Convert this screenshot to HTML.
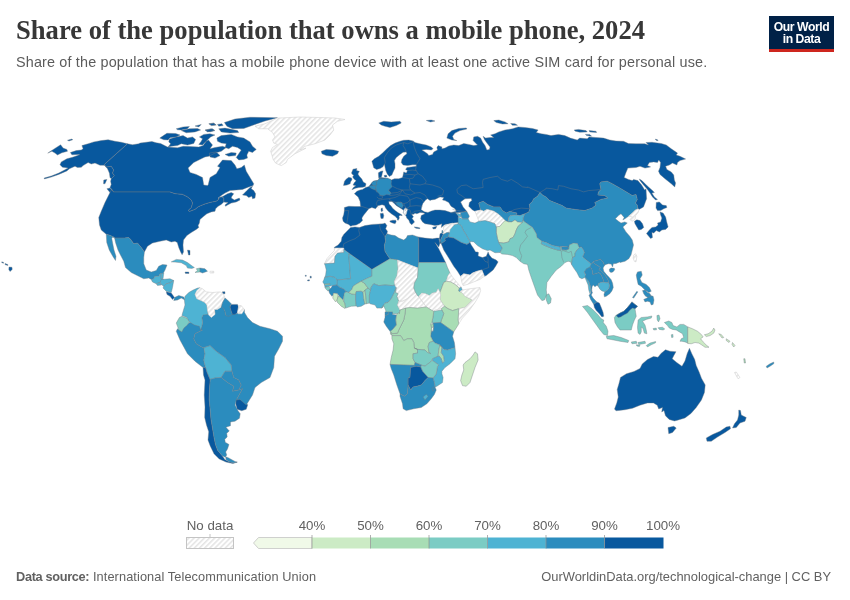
<!DOCTYPE html>
<html lang="en">
<head>
<meta charset="utf-8">
<title>Share of the population that owns a mobile phone, 2024</title>
<style>
html,body{margin:0;padding:0;background:#fff;}
body{width:850px;height:600px;position:relative;overflow:hidden;font-family:"Liberation Sans",sans-serif;}
#title{position:absolute;left:16px;top:12.8px;margin:0;font-family:"Liberation Serif",serif;font-weight:bold;font-size:26.6px;line-height:34px;color:#373737;white-space:nowrap;letter-spacing:0px;}
#subtitle{position:absolute;left:16px;top:51.6px;margin:0;font-size:14.4px;letter-spacing:0.16px;line-height:20px;color:#5b5b5b;white-space:nowrap;}
#logo{position:absolute;left:769px;top:16px;width:65px;height:33px;background:#002147;border-bottom:3px solid #ce261e;color:#fff;font-weight:bold;font-size:12.2px;line-height:12px;text-align:center;letter-spacing:-0.45px;}
#logo span{display:block;}
#logo span:first-child{margin-top:4.5px;}
#src{position:absolute;left:16px;top:569px;font-size:12.75px;line-height:16px;color:#616161;white-space:nowrap;}
#src b{font-weight:bold;letter-spacing:-0.33px;}#src span{letter-spacing:0.1px;}
#url{position:absolute;right:19px;top:569px;font-size:12.9px;line-height:16px;color:#616161;white-space:nowrap;}
svg{position:absolute;left:0;top:0;}
.lg text{font-family:"Liberation Sans",sans-serif;font-size:13.3px;fill:#616161;}
</style>
</head>
<body>
<h1 id="title">Share of the population that owns a mobile phone, 2024</h1>
<p id="subtitle">Share of the population that has a mobile phone device with at least one active SIM card for personal use.</p>
<div id="logo"><span>Our World</span><span>in Data</span></div>
<svg class="lg" width="850" height="600" viewBox="0 0 850 600">
<defs>
<pattern id="hatch" patternUnits="userSpaceOnUse" width="3.64" height="3.64" patternTransform="rotate(45)">
<rect width="3.64" height="3.64" fill="#fff"/><line x1="0.8" y1="0" x2="0.8" y2="3.64" stroke="#dedede" stroke-width="1.25"/>
</pattern>
</defs>
<g id="map">
<g stroke="#747b84" stroke-opacity="0.9" stroke-width="0.45" stroke-linejoin="round">
<path fill="#08589e" d="M47.75,153.12 52.5,150 60.62,144.75 63.12,148.12 66.88,149.38 67.5,151.25 61.88,152.75 57.5,155 55,153.12 51.88,151.25ZM67.5,140.25 71.88,139 72.75,139.75 69,141Z"><title>Russia</title></path>
<path fill="#08589e" d="M81.88,145.62 88.12,143.75 93.75,141.88 101.25,140.62 108.12,139.75 115,141.25 121.25,142.25 127.5,143.75 104.38,164.38 106.25,166.88 111.25,166.25 113.75,170 112.5,173.12 114.38,175.62 111.25,178.75 110,177.5 109.38,173.12 107.5,168.75 104.38,165.25 100,165.25 95,163.12 91.25,164 88.12,162.5 83.12,165.62 81.25,167.25 77.5,167.5 75,166.25 69.38,168.75 66.88,170.88 58.75,174.38 51.25,177.12 44.38,178.88 44.12,178.12 51.25,176 58.75,173.12 65,169.75 68.12,168.12 62.5,167.25 60,164.75 61.25,161.88 66.88,158.75 72.5,157.25 77.5,155.62 79.75,154.62 71.88,154.75 70.38,152.5 76.25,150.62 81.25,150 83.12,148.75Z"><title>United States</title></path>
<path fill="#08589e" d="M127.5,143.75 132.5,144.75 138.75,143.75 140,143.12 146.25,142.25 151.88,141.5 156.25,142.75 160.62,143.5 167.5,147 177.5,147.75 183.12,146.25 190,146.5 198.75,147 203.12,145.62 206.25,141.25 208.5,140 210.62,142.75 212.5,145 210,148.75 215,147.5 222.5,146.25 226.25,147.5 221.25,151.25 215,153.12 208.75,156.25 205,156.88 201.25,158.75 193.75,162.5 188.12,168.12 190,172.5 196.25,174.38 202.5,177.5 203.75,185 207.5,185.5 208.12,185 210,177.5 216.25,173.75 220,167.5 217.5,166.25 222.5,160 231.25,160.62 235,165 236.88,168.75 241.25,167.5 244.38,165 246.25,171.25 250,177.5 253.75,183.75 253.12,185.62 248.75,186.88 242.5,189.38 236.25,190 230,190.62 225,193.12 221.25,195.62 218.12,198.12 218.75,198.75 223.12,196.25 227.5,193.75 231.25,192.5 233.75,193.75 231.88,196.25 231.25,198.12 234.38,200 237.5,198.75 239.38,198.12 240,200 236.25,201.88 231.25,203.12 227.5,205 225.62,206.25 225,205 228.12,202.5 225,202.25 223.75,201.88 223.75,198.12 221.88,196.88 219.38,197.5 218.75,199.38 216.25,201.25 210,202.5 203.75,204.38 198.12,206.88 195,209.38 189.38,211.5 188.12,210.62 191.25,207.5 192.5,203.12 191.25,200 187.5,196.88 182.5,194.38 175,193.75 170,192 113.75,192 111.88,189.38 110,187.5 111.25,184.38 110.62,181.25 111.25,178.75 114.38,175.62 112.5,173.12 113.75,170 111.25,166.25 106.25,166.88 104.38,164.38ZM106.88,188.75 110,188.12 113.12,191.25 114.38,193.75 113.12,195.62 110,192.5ZM103.75,180 106.88,179.38 105,183.75 103.5,183.75ZM242.5,195 246.88,190.62 250,187.5 252.5,186.25 251.25,188.75 253.75,190.62 255.62,193.75 255,198.12 252.5,198.75 251.88,196.25 248.75,197.5 246.25,195.62ZM159.75,138.12 166.88,133.25 175.62,133.5 180,135 176.25,136.88 170,137.75 168.12,140 163.75,139.75ZM169.38,139 176.25,136.88 183.12,135.62 187.5,138.12 192.5,136.88 195.62,139.38 193.75,143.5 187.5,145 181.25,143.75 177.5,145.62 171.25,146.25 168.12,146.88 170.62,143.75 168.75,141.88ZM176.25,128.75 183.12,126.88 189.38,126.5 187.5,128.75 181.25,130 177.5,129.75ZM181.25,130.62 189.38,128.75 197.5,128.5 200.62,130 195,131.88 186.25,132.75ZM195,126 201.25,124.38 198.75,126.88ZM199.38,136.88 203.75,134.38 210,133.75 215,135 210.62,136.88 207.5,140 205,142.5 202.5,145 198.75,144.38 201.25,141.25 202.5,138.75ZM205.62,130 212.5,128.75 215,130.62 210,131.88ZM209.38,123.75 213.75,123.12 216.25,125 211.88,125.62ZM224.38,122.5 235,119 250,117.25 277.5,117.75 265,121 255,124.38 243.75,128.5 232.5,128.75 226.88,126.25ZM218.75,128.75 225,128.12 237.5,130.62 238.75,132.5 230,133.12 221.25,131.88ZM208.75,123.75 213.75,123.12 215.62,125 211.25,125.62ZM205,130 211.25,128.75 213.75,130.62 207.5,131.88ZM217.5,124.38 221.88,123.75 223.12,125.62 218.75,126.25ZM216.88,138.12 221.25,135.62 231.25,134.38 237.5,136.88 243.75,138.12 250,141.88 252.5,146.25 256.25,149.38 252.5,152.5 248.75,151.25 246.88,155 247.5,158.12 243.75,159.38 238.75,160 236.25,157.5 238.75,153.75 241.25,150 237.5,147.5 232.5,146.25 228.75,148.75 225,147.5 226.25,143.75 221.25,143.12 217.5,141.25ZM225,154.38 231.25,152.5 236.25,153.12 235.62,155.62 228.75,156.25ZM209.38,153.12 216.25,151.88 220,155.62 215,158.12 210,156.88Z"><title>Canada</title></path>
<path fill="#08589e" d="M113.75,192 111.25,190 108.75,195 105,202.5 101.25,211.25 98.75,217.5 99.5,225 101.25,230 106.25,234.25 110.6,235.6 115,238.1 124.4,238.1 128.75,237.5 130.6,239.4 133.75,243.75 137.5,243.1 141.25,247.5 144.4,251.9 147.5,246.25 152.5,243 160,241.25 166.25,240 171.25,242 175,241.25 177.25,242.5 178.75,247.5 180.62,251.88 182.12,254.75 183.5,251.88 183,245 183.5,240 186.88,235.62 191.25,232.5 196.25,229.38 198.75,227.5 198.12,225.62 199.38,223.12 200,219.38 203.75,216.25 206.88,213.75 211.25,211.88 215,211.25 215.62,208.75 218.12,206.25 221.25,204.38 223.75,201.88 223.75,198.12 221.88,196.88 219.38,197.5 218.75,199.38 216.25,201.25 210,202.5 203.75,204.38 198.12,206.88 195,209.38 189.38,211.5 188.12,210.62 191.25,207.5 192.5,203.12 191.25,200 187.5,196.88 182.5,194.38 175,193.75 170,192Z"><title>United States</title></path>
<path fill="#2b8cbe" d="M106.25,234.25 106.75,242.5 109.25,250 112.75,256.25 115.5,260.5 116,256.25 114,250 112.75,243.75 111.75,238.5 113,236.5 114.5,237.5 115.5,242.5 118,250 120.5,255 123.75,261.25 125.5,267.5 131.25,272.5 138.75,276.25 143.75,278.75 148.75,278 151.25,279.5 153.75,278.75 155,276.25 158.75,276.25 160,273.75 163,273.75 165,270 167,265 162.5,264.5 158.75,266.25 156.25,270.5 151.25,272 146.25,270 143.75,263.75 143.75,257.5 144.4,251.9 141.25,247.5 137.5,243.1 133.75,243.75 130.6,239.4 128.75,237.5 124.4,238.1 115,238.1 110.6,235.6 106.25,234.25Z"><title>Mexico</title></path>
<path fill="#4eb3d3" d="M151.25,279.5 153.75,278.75 155,276.25 158.75,276.25 160,273.75 161.25,274.5 161.25,278.75 163.75,279.5 160,282.5 156.25,283.75 152.5,282Z"><title>Guatemala</title></path>
<path fill="#4eb3d3" d="M161.25,273.75 163.75,273 163,278.75 161.25,278.75Z"><title>Belize</title></path>
<path fill="#4eb3d3" d="M161.25,279.5 170,278.75 173.75,280.5 170,283 166.25,283.75 163.75,286.25 161.25,284.5 160,282.5Z"><title>Honduras</title></path>
<path fill="#4eb3d3" d="M156.25,283.75 160,282.5 161.25,285 157.5,285.5Z"><title>El Salvador</title></path>
<path fill="#4eb3d3" d="M163.75,286.25 166.25,283.75 170,283 173.75,280.5 172.5,287.5 171.25,292.5 166.25,291.25 163,288Z"><title>Nicaragua</title></path>
<path fill="#08589e" d="M166.25,291.75 171.25,293 174.5,297.5 172.5,299.5 170,296.25 167,294.5Z"><title>Costa Rica</title></path>
<path fill="#2b8cbe" d="M174.5,297.5 178.75,295.5 183.75,297 185,300 181.25,298 177.5,300 173.75,300.5Z"><title>Panama</title></path>
<path fill="#4eb3d3" d="M171.25,261.88 176.25,259.38 182.5,260 187.5,262.5 192.5,266.25 194.38,267.5 191.88,268.38 187.5,268.12 186.25,265.62 181.25,262.75 175,262.12Z"><title>Cuba</title></path>
<path fill="#08589e" d="M185,272 188.75,272 189,273.5 185.5,273.5Z"><title>Jamaica</title></path>
<path fill="#7bccc4" d="M196.25,268.75 200,268 200,272 195,272.5 197.5,270.5Z"><title>Haiti</title></path>
<path fill="#2b8cbe" d="M200,268 205,268.75 207.5,271.25 202.5,273 200,272Z"><title>Dominican Republic</title></path>
<path fill="url(#hatch)" stroke="#d4d4d4" stroke-opacity="1" stroke-width="0.6" d="M210,271.25 213.75,271.25 213.75,273 210,273Z"><title>Puerto Rico</title></path>
<path fill="#08589e" d="M187.5,250 190,250.5 190,255 188.5,255Z"><title>Bahamas</title></path>
<path fill="#08589e" d="M222.5,291.75 225,291.75 225,293.75 222.5,293.75Z"><title>Trinidad and Tobago</title></path>
<path fill="url(#hatch)" stroke="#d4d4d4" stroke-opacity="1" stroke-width="0.6" d="M255,126.25 265,123.75 277.5,118.12 300,117 320,117.5 335,118 345,119.5 337.5,121.25 332.5,125 333.75,130 330,135 325,140 315,143.75 305,146.25 300,150 306,148.12 302.5,150 295,153.75 287.5,159.38 286.25,162.5 281.25,165.62 275.62,163.12 273.12,159.38 271.88,155 270.62,151.25 272.5,147.5 277.5,144.38 273.75,143.12 272.5,140 275,136.88 272.5,132.5 267.5,128.75 258.75,128.75Z"><title>Greenland</title></path>
<path fill="#08589e" d="M9,267 12,267.3 12.2,269.5 10,271.5 8.8,269.5ZM5,263.5 7.8,264.5 7.8,265.6 5,264.6ZM1.8,261.8 3.6,262.4 3.6,263.2 1.8,262.7Z"><title>United States</title></path>
<path fill="#2b8cbe" d="M177.5,328.75 181.25,331.25 185,326.25 189.5,322.5 191.25,322.5 196.25,325 201.25,326.25 202.5,330 195,333.75 193.75,338.75 196.25,343.75 202.5,347.5 203.75,347.5 205,353.75 203.75,360 205.5,367.5 203,367.5 195,361.25 187.5,353.75 180,340 176.25,331.25Z"><title>Peru</title></path>
<path fill="#4eb3d3" d="M203.75,347.5 210,345.5 216.25,351.25 225,357.5 231.25,365 232,371.25 225,371.25 221.25,377.5 215,378 210,379.5 207,372.5 205.5,367.5 203.75,360 205,353.75Z"><title>Bolivia</title></path>
<path fill="#2b8cbe" d="M221.25,377.5 225,371.25 232,371.25 233.75,377.5 238.75,380 241.25,385 238.75,390 232.5,391.25 233.75,386.25 227.5,382.5Z"><title>Paraguay</title></path>
<path fill="#08589e" d="M235.73,399.19 239.93,398.89 243.97,401.74 247.72,404.74 246.22,409.24 241.72,410.73 237.23,409.24 235.73,403.99Z"><title>Uruguay</title></path>
<path fill="#2b8cbe" d="M244.5,312.5 247.5,317.5 252.5,322.5 260,326.25 270,328.75 277.5,331.25 282.5,336.25 282.5,341.25 278.75,348.75 274.5,356.25 273.75,367.5 270,377.5 261.25,382.5 255,387.5 252.5,395 246.25,405 240,399.5 236.25,400 242.5,388.75 238.75,390 241.25,385 238.75,380 233.75,377.5 232,371.25 231.25,365 225,357.5 216.25,351.25 210,345.5 203.75,347.5 202.5,347.5 196.25,343.75 193.75,338.75 195,333.75 202.5,330 200.62,330 201.88,326.25 202.5,322.5 201.88,317.5 203.12,314.38 208.12,313.75 208.75,314.38 211.25,316.88 215,313.75 214.38,308.75 217.5,308.75 221.25,306.25 223.75,308.12 225,311.25 225.62,315 228.75,315.62 232.5,313.75 235,313.75 238.12,313.12 241.88,313.12 244.38,309.38Z"><title>Brazil</title></path>
<path fill="#08589e" d="M203,367.5 205.5,367.5 207,372.5 210,379.5 210.24,380 209.49,389 209.19,399.49 210.24,409.99 210.99,418.98 212.49,427.98 213.99,436.97 215.49,444.47 217.74,450.46 222.23,455.71 224.78,459.46 228.98,461.71 233.48,462.76 237.23,462.16 232.73,463.51 225.98,462.01 219.24,459.01 213.99,453.76 210.24,445.97 207.99,439.97 208.74,431.72 206.49,424.98 204.69,417.48 204.99,406.99 204.24,394.99 204.99,380 203.5,375Z"><title>Chile</title></path>
<path fill="#2b8cbe" d="M210,379.5 215,378 221.25,377.5 227.5,382.5 233.75,386.25 232.5,391.25 238.75,390 242.5,388.75 236.25,400 235,405 237.98,410.73 240.22,413.73 239.48,418.23 234.98,421.23 230.48,421.98 230.48,425.73 225.98,427.23 229.28,430.97 226.73,433.22 227.18,436.97 224.78,439.22 225.23,442.22 228.98,444.47 227.48,448.97 225.68,451.96 226.73,454.96 225.23,457.21 222.23,455.71 217.74,450.46 215.49,444.47 213.99,436.97 212.49,427.98 210.99,418.98 210.24,409.99 209.19,399.49 209.49,389 210.24,380ZM225.68,456.76 228.23,457.66 234.98,461.41 237.23,462.16 233.48,462.76 228.98,461.71 225.98,459.46Z"><title>Argentina</title></path>
<path fill="#4eb3d3" d="M185,296.25 188.75,292.5 193.12,290 197.5,288.12 200,287.75 196.88,290.62 195,294.38 196.88,298.75 201.25,300.62 205,302.5 206.88,305 207.5,310 208.12,314.38 203.12,315 201.88,317.5 202.5,322.5 201.88,326.25 200.62,330 199.38,326.25 194.38,325 191.25,323.12 188.75,321.25 186.88,317.5 181.88,315.62 183.12,311.25 185,305 184.38,300Z"><title>Colombia</title></path>
<path fill="url(#hatch)" stroke="#d4d4d4" stroke-opacity="1" stroke-width="0.6" d="M200,287.75 202.5,288.75 206.25,291.88 212.5,292.5 220,291.88 222.5,293.12 223.75,295 225,298.12 222.5,302.5 221.25,306.88 217.5,309.38 214.38,309.38 215,314.38 211.25,317.5 208.75,315 207.5,310 206.88,305 205,302.5 201.25,300.62 196.88,298.75 195,294.38 196.88,290.62Z"><title>Venezuela</title></path>
<path fill="#2b8cbe" d="M225,298.12 227.5,300 231.25,303.75 230,306.88 231.25,311.25 232.5,314.38 228.75,316.25 225.62,315.62 225,311.25 223.75,308.75 221.25,306.88 222.5,302.5Z"><title>Guyana</title></path>
<path fill="#08589e" d="M231.25,304.38 237.5,304.38 238.5,306.88 237.5,312.5 235,314.38 232.5,314.38 231.25,311.25 230,306.88Z"><title>Suriname</title></path>
<path fill="url(#hatch)" stroke="#d4d4d4" stroke-opacity="1" stroke-width="0.6" d="M238.5,305.62 241.25,305.62 244.38,309.38 241.88,313.75 238.12,313.75 237.5,312.5 238.5,306.88Z"><title>French Guiana</title></path>
<path fill="#7bccc4" d="M176.25,323.12 179.38,317.5 181.88,316.25 186.88,318.12 189.38,321.88 186.88,325.62 183.75,328.12 181.88,331.88 178.75,330 177.5,326.25Z"><title>Ecuador</title></path>
<path fill="#08589e" d="M376.62,169.5 373.75,167.75 372.75,164.25 371.88,161.25 374.38,158.75 378.75,156.25 382.5,153.12 386.88,148.75 390.62,145.62 395,143.12 400,141.25 403.75,140.25 408.75,140 413.12,141 415,142.5 420,143.75 426.25,145 431.25,146.88 433.12,148.75 431.25,150 426.25,149.38 421.88,150 425,151.88 427.5,153.75 428.75,155.62 432.5,154.38 433.75,151.88 437.5,150 436.88,147.5 438.12,145.62 441.88,146.88 441.88,148.75 445,148.12 448.75,146 453.75,145 458.75,145.62 463.75,143.5 468.75,144.38 473.75,145.62 477.5,145 473.12,140.62 473.75,136.88 477.5,136.25 480.62,138.12 482.5,141.88 485,145.62 486.88,150 489.38,149.38 490,146.88 486.88,143.12 484.38,139.38 483.12,136.25 485.62,138.12 490,137.5 493.75,137.5 490.62,135 495,133.75 498.75,131.88 505,130 512.5,128.75 518.12,126.88 525,127.5 532.5,128.5 538.12,130 536.25,132.5 541.25,133.75 546,134.38 551,135.62 558.5,134.38 564.75,135.62 570.38,138.12 577.25,140 579.75,138.12 587.25,138.75 589.12,136.88 596,137.5 603.5,138.12 609.75,140 616,141 623.5,141.25 628.5,143.5 636,143.75 644.75,143.75 648.5,145 646,142.5 652,142.25 653.75,142.5 661.25,143.5 666.25,145 671.25,148.75 677.5,153.12 676.25,155 680,156.25 685.62,159 680,160.62 677.5,162.5 676.88,165 672.5,163.12 669.38,165 665.62,166.25 666.88,169.38 671.25,171.88 673.75,175 674.38,180 675.62,183.12 674.75,186.88 671.25,183.75 665,178.75 660,174.38 658.5,171.25 660,167.5 660.62,162.5 658.75,160 657.5,162.5 653.75,161.88 649.38,162.5 647.5,165.62 650.62,166.88 645,168.12 640,166.25 636,167.5 627.88,168.12 626,172.5 624.12,177.5 628.5,179.38 632.25,180.62 633.5,179.38 637.88,180.62 641.62,185 644.75,190 646,188.75 646.62,198.75 643.5,206.88 639.12,209.38 637.88,209 637.25,205 635.38,203.12 637.25,199.38 636,194.38 632.25,195.62 627.25,192.5 621,188.75 613.5,184.38 607.25,181.25 601,181.88 599.75,183.75 601,189.38 598.5,191.88 597.88,195 604.75,195.62 607.88,198.12 601,199.38 594.75,202.5 596,205 592.25,208.12 584.75,210.62 574.75,209.38 566,208.12 562.25,205.62 556,203.12 549.75,200.62 546,196.88 542.5,195 540,192.5 537.5,196.25 533.75,198.75 532.5,201.25 529.38,204.38 530,208.75 528.75,211.88 525,213.75 520,215.62 516.25,215 516.88,213.12 513.12,212.25 510,211.25 506.25,213.12 502.5,210.62 500,206.88 493.75,206.88 487.5,204.38 483.12,201.25 478.75,203.12 480.62,210 475,211.25 472.5,210 468.75,206.25 469.38,202.5 471.88,200.62 471.25,198.5 465,198.75 460.62,201.88 463.12,206.88 466.88,211.5 460.62,212.5 455.62,212.75 458.75,216.25 458.12,216.88 460,222.5 458.12,222.5 453.12,223.12 445,224.38 441.25,227.5 441.88,223.75 438.75,225 435,225.62 430,224.38 425,223.75 422.5,221.88 420.62,218.75 421.25,215.62 425,213.75 423.12,212.75 420,212.5 416.88,213.75 414.38,213.12 414.52,213.88 411.7,214.58 413.46,216.7 412.05,218.46 413.46,220.23 414.52,221.99 413.46,223.05 411.7,224.82 409.93,223.05 408.87,220.23 406.76,218.11 406.05,215.99 404.64,214.58 403.23,212.47 403.93,210.7 402.17,209.29 398.99,207.17 396.17,205.41 394.05,203.29 391.94,201.53 388.76,201.53 389.11,204 390.88,205.76 392.64,208.23 395.47,210.7 398.29,212.82 401.82,214.72 402.17,215.64 400.05,215.29 398.99,216.35 399.35,218.11 398.29,220.23 397.23,219.88 397.44,218.82 395.11,216.35 391.58,213.88 388.06,211.05 385.59,207.88 384.53,205.41 382.06,204.7 377.82,205.76 375.62,208.75 371.88,207.5 368.75,208.75 366.25,211.88 363.75,215 361.88,218.12 362.5,220.62 360,223.12 356.25,225 352.5,225.62 350.62,226.25 348.75,224.38 345,223.12 343.12,221.25 342.5,218.12 343.75,214.38 344.38,210.62 344.38,207.5 348.75,206.25 355,206.5 360.62,206.5 360,201.25 358.12,196.88 354.38,193.75 356.88,191.25 360,190 362.5,189.38 365.62,187.5 368.88,186.5 371.38,183.25 373.5,181.12 377.38,180.5 379.38,179 378.75,178.12 381.25,177.5 385,178.12 387.5,178.75 391.25,180 394.38,178.75 398.75,178.75 402.5,177.5 403.12,175 403.75,171.88 406.25,173.12 407.5,170.62 405.62,169.38 406.88,167.5 411.25,166.88 416.25,166.25 416.25,164.75 412.5,164.75 407.5,165.62 403.12,165 401.25,162.5 401.88,159.38 403.75,156.25 406.88,153.75 406.25,151.88 403.12,152.25 400,154.38 396.25,157.5 394.38,160.62 395,163.75 395,168.12 393.12,171.88 391.88,175 389.38,176.5 387.25,174.12 385.75,170.62 384.38,164.25 383,166.75 380.12,168.5Z"><title>Europe, Russia, Kazakhstan, Mongolia, Turkey</title></path>
<path fill="#fff" d="M421.22,209.29 421.93,206.11 422.99,203.29 425.81,199.76 427.58,198.7 430.05,200.47 431.46,199.9 434.99,199.41 440,196.88 443.75,197.5 442.5,200 445,200.62 448.75,202.5 451,206.25 455,208.75 456.25,211.25 451,212.5 445,210.62 440,210 434.99,210 431.46,211.05 427.93,212.47 424.4,211.76 421.22,209.64Z"><title>Black Sea</title></path>
<path fill="#08589e" d="M378.38,172.75 380.88,171.25 383,170.88 382.25,173.38 381.88,175.5 381.25,177.5 378.75,178.12 378.5,175.88ZM384,175.5 386.5,175.12 386.88,176.88 384.75,177.25Z"><title>Denmark</title></path>
<path fill="#2b8cbe" d="M377.34,180.47 380.17,178.49 384.4,178.7 387.22,178 390.75,179.41 391.46,181.17 391.1,183.99 392.16,186.82 390.05,188.58 388.63,190.35 391.1,193.17 389.69,194.93 386.52,194.58 383.69,195.64 380.17,195.29 378.75,193.17 376.28,191.05 375.93,188.23 375.58,186.11 376.64,184.7 376.28,182.58Z"><title>Germany</title></path>
<path fill="#2b8cbe" d="M371.34,183.29 373.46,181.17 377.34,180.47 376.28,182.58 376.64,184.7 375.58,186.11 373.11,185.76Z"><title>Netherlands</title></path>
<path fill="#2b8cbe" d="M368.87,186.46 371.34,185.41 373.11,185.76 375.58,186.11 375.93,188.23 375.23,189.99 373.11,189.29 370.99,188.23Z"><title>Belgium</title></path>
<path fill="#08589e" d="M351.58,172.7 353,169.17 356.88,168.47 356.52,170.59 359.35,171.29 357.94,174.11 359.35,176.23 361.82,179.05 363.23,181.88 366.05,183.64 365.35,186.46 362.88,187.17 358.99,187.52 355.47,188.23 351.94,189.64 353.35,187.52 355.82,185.76 353,185.05 354.41,182.58 356.17,180.82 354.05,179.05 352.64,176.94 353.7,175.17 351.94,174.11Z"><title>United Kingdom</title></path>
<path fill="#08589e" d="M343.47,185.41 344.53,181.17 346.29,179.05 348.76,177.29 351.58,178 351.94,179.76 350.53,181.88 350.17,183.64 347,185.05Z"><title>Ireland</title></path>
<path fill="#08589e" d="M321.25,151.25 326.25,149.5 333.75,150 338.75,151.25 337.5,153.75 332.5,156.25 326.25,155.5 322,153.75Z"><title>Iceland</title></path>
<path fill="#08589e" d="M378.75,123 383.75,121.25 391.25,122 400,121.25 401.25,123 396.25,125.5 390,127.5 385,126.25 381.25,125Z"><title>Norway</title></path>
<path fill="#08589e" d="M426.25,120.5 431.25,120 435,121 430.5,122ZM446.88,138.12 448.12,133.75 451.88,130.62 458.75,128.5 466.25,127.88 466.88,129 460,130.62 455,133.12 452.5,136.25 453.75,139.38 456.88,140.62 451.88,140ZM493.75,120.62 498.75,120 505,121.88 508.12,123.75 502.5,124 496.25,122.5ZM510.62,123.5 515,123.75 517.5,125.25 512.5,125.25ZM574.12,130 578.5,129.38 586,130.62 587.25,131.88 579.75,132.25 575.38,131.25ZM589.12,130.62 596,131.25 596.62,132.5 589.75,131.88ZM585.38,134.38 589.75,134.38 591.62,136.25 586.62,135.62ZM655.25,139.12 657.5,139.75 658.12,140.75 656,140.25Z"><title>Russia</title></path>
<path fill="#08589e" d="M432.5,227.5 436.88,226.25 435.62,228.75 433.12,229Z"><title>Cyprus</title></path>
<path fill="#08589e" d="M389.82,220.93 392.64,220.23 395.82,220.23 396.17,221.64 395.11,223.76 392.64,223.05 390.17,221.99ZM380.29,213.52 383.12,213.17 383.82,215.64 383.12,218.46 381,218.46 380.5,215.99Z"><title>Italy</title></path>
<path fill="#08589e" d="M381,208.58 382.41,207.88 382.76,210.7 381.7,211.76 381,210.35Z"><title>France</title></path>
<path fill="#08589e" d="M414.17,226.93 417.34,227.29 420.17,227.99 419.46,228.7 415.93,228.34Z"><title>Greece</title></path>
<path fill="#2b8cbe" d="M395.47,202.59 398.29,201.88 401.82,202.59 403.23,205.41 402.17,207.88 399.7,206.82 397.23,205.06Z"><title>Bosnia and Herzegovina</title></path>
<path fill="url(#hatch)" stroke="#d4d4d4" stroke-opacity="1" stroke-width="0.6" d="M404.29,208.94 406.05,207.88 407.46,209.29 406.76,211.76 406.05,214.58 404.64,215.29 403.58,212.82 403.93,210.7Z"><title>Albania</title></path>
<path fill="#08589e" d="M334.38,247.25 338.12,245 341.25,241.25 341.88,237.5 343.75,234.38 346.88,231.25 350.62,227.5 355,226.88 359.38,227.5 365,225.62 372.5,224.38 380,224 383.12,223.75 385,223.12 386.88,225.62 385.62,228.75 387.5,231.25 386.88,233.75 385,236.88 385.62,241.25 384.38,245 385,251.25 388.12,256.25 390,258.75 371.88,269.38 350.62,254.38 343.75,249.38 343.75,248.12 334.38,248.12Z"><title>Morocco, Algeria, Tunisia</title></path>
<path fill="url(#hatch)" stroke="#d4d4d4" stroke-opacity="1" stroke-width="0.6" d="M334.38,248.12 343.75,248.12 343.75,252.5 337.5,253.12 335,256.25 334.38,263.12 325,263.75 324.38,263.75 326.88,258.75 331.25,253.75 334.38,250.62Z"><title>Western Sahara</title></path>
<path fill="#2b8cbe" d="M386.88,233.75 391.25,235 395,235.62 398.75,238.12 403.75,240 406.25,238.12 407.5,235.62 412.5,235 418.12,236.88 418.75,240 418.75,262.5 418.12,268.12 397.5,260 390,258.75 388.12,256.25 385,251.25 384.38,245 385.62,241.25 385,236.88Z"><title>Libya</title></path>
<path fill="#08589e" d="M418.12,236.88 425,238.12 432.5,238.75 436.88,238.12 440,238.12 441.25,237.5 438.75,238.75 440,243.12 438.75,246.88 435,242.5 438.75,248.75 442.5,256.25 445.62,262.5 418.75,262.5 418.75,240Z"><title>Egypt</title></path>
<path fill="#4eb3d3" d="M334.38,263.12 335,256.25 337.5,253.12 343.75,252.5 343.75,249.38 350.62,254.38 348.75,254.38 350.62,278.75 336.88,280 335,277.5 330,276.25 325,277.5 324.38,278.12 325.62,275 326.25,270 325,265 324.38,263.75Z"><title>Mauritania</title></path>
<path fill="#4eb3d3" d="M350.62,254.38 371.88,269.38 371.88,276.25 366.25,278.75 361.25,281.25 356.88,283.75 353.12,286.25 351.88,289.38 348.75,292.5 346.25,291.88 343.75,289 340,287.5 336.88,285 336.88,280 350.62,278.75 348.75,254.38Z"><title>Mali</title></path>
<path fill="#4eb3d3" d="M325,277.5 330,276.25 335,277.5 336.88,280 336.88,285 332.5,285.62 328.75,286.5 325,287.25 325,287.5 324.38,284.38 322.75,281.88 323.75,280 324.38,278.12Z"><title>Senegal</title></path>
<path fill="#a8ddb5" d="M324.38,284 330,283.5 330,284.38 324.5,284.88Z"><title>Gambia</title></path>
<path fill="#7bccc4" d="M325,287.25 328.75,286.5 330.62,288.5 328.75,290 328.12,291.25 325.62,288.75Z"><title>Guinea-Bissau</title></path>
<path fill="#2b8cbe" d="M328.75,290 330.62,288.5 332.5,285.62 336.88,285 340,287.5 343.75,289 346.25,291.88 344.38,293.12 343.75,296.88 343.12,300 340,296.88 337.5,293.75 333.75,293.12 333.12,295 331.88,296.25 329.38,293.12Z"><title>Guinea</title></path>
<path fill="#ccebc5" d="M333.12,295 333.75,293.12 337.5,293.75 338.12,296.25 336.88,300.62 335.62,301.88 332.75,298.12Z"><title>Sierra Leone</title></path>
<path fill="#a8ddb5" d="M336.88,300.62 338.12,296.25 340,296.88 343.12,300 343.75,301.25 345,303.75 345.62,307.5 345,308.5 341.25,306.25 337.5,302.5Z"><title>Liberia</title></path>
<path fill="#7bccc4" d="M343.75,296.88 344.38,293.12 346.25,291.88 348.75,292.5 351.88,294 355.62,294.38 355.62,300 356.25,306 351.25,306.25 345.62,308.12 345,303.75 343.75,301.25Z"><title>Cote d'Ivoire</title></path>
<path fill="#a8ddb5" d="M351.88,289.38 353.12,286.25 356.88,283.75 361.25,281.25 364.38,283.12 368.12,288.12 365,290 363.12,292.5 361.25,291.25 356.25,291.5 355.62,294.38 351.88,294 348.75,292.5Z"><title>Burkina Faso</title></path>
<path fill="#4eb3d3" d="M356.25,291.5 361.25,291.25 363.12,292.5 363.75,298.75 365,304 361.25,306.25 357.5,306.88 356.25,306 355.62,300 355.62,294.38Z"><title>Ghana</title></path>
<path fill="#a8ddb5" d="M363.12,292.5 365,290 365.62,295 366.5,303.75 365,304 363.75,298.75Z"><title>Togo</title></path>
<path fill="#7bccc4" d="M365,290 368.12,288.12 370.62,290 369.38,295 369.38,303.12 366.5,303.75 365.62,295Z"><title>Benin</title></path>
<path fill="#7bccc4" d="M371.88,269.38 390,258.75 397.5,260 398.12,268.75 396.88,276.25 394.38,281.25 395,285 392.5,285.62 385,285 378.75,285.62 373.75,283.75 371.25,286.88 370.62,290 368.12,288.12 364.38,283.12 361.25,281.25 366.25,278.75 371.88,276.25Z"><title>Niger</title></path>
<path fill="#4eb3d3" d="M370.62,290 371.25,286.88 373.75,283.75 378.75,285.62 385,285 392.5,285.62 395,285 396.25,287.5 394.38,292.5 391.25,298.75 388.12,302.5 385,303.12 382.5,307.5 381.25,308.12 376.88,308.12 375,305 370,303.75 369.38,303.12 369.38,295Z"><title>Nigeria</title></path>
<path fill="url(#hatch)" stroke="#d4d4d4" stroke-opacity="1" stroke-width="0.6" d="M397.5,260 418.12,268.12 417.5,277.5 414.38,283.12 413.75,288.12 415.62,292.5 411.25,295.62 407.5,298.75 402.5,301.25 398.75,301.25 396.88,296.25 398.12,293.75 395.62,292.5 396.25,287.5 395,285 394.38,281.25 396.88,276.25 398.12,268.75Z"><title>Chad</title></path>
<path fill="#7bccc4" d="M396.25,287.5 395.62,292.5 398.12,293.75 396.88,296.25 398.75,301.25 397.5,305 400,310 399.38,313.75 395,313.75 386.25,313.75 385.62,310 383.75,306.25 383.12,305.62 381.25,308.12 382.5,307.5 385,303.12 388.12,302.5 391.25,298.75 394.38,292.5Z"><title>Cameroon</title></path>
<path fill="url(#hatch)" stroke="#d4d4d4" stroke-opacity="1" stroke-width="0.6" d="M398.75,301.25 402.5,301.25 407.5,298.75 411.25,295.62 415.62,292.5 418.12,296.25 418.75,296.25 421.25,300 425,305 426.25,306.88 417.5,308.12 410,307.5 405.62,308.12 400,310 397.5,305Z"><title>Central African Republic</title></path>
<path fill="#7bccc4" d="M419.38,262.5 445.62,262.5 447.5,267.5 450,273.12 448.12,275.62 446.25,281.25 443.75,282.5 441.88,287.5 440,292.5 438.12,288.75 436.25,292.5 432.5,293.12 429.38,295.62 425.62,293.75 421.88,293.12 418.75,296.25 418.12,296.25 415.62,292.5 413.75,288.12 414.38,283.12 417.5,277.5 418.12,268.12 418.75,262.5Z"><title>Sudan</title></path>
<path fill="url(#hatch)" stroke="#d4d4d4" stroke-opacity="1" stroke-width="0.6" d="M448.12,275.62 450,273.12 452.5,276.88 457.5,283.12 461.25,287.25 459.38,288.12 455,284.38 450.62,281.88 446.25,281.25Z"><title>Eritrea</title></path>
<path fill="#ccebc5" d="M446.25,281.25 450.62,281.88 455,284.38 459.38,288.12 458.75,291 461.88,292.5 465,296.25 472.5,300 468.75,303.75 465,307.5 458.75,308.75 452.5,310.62 448.12,308.75 444.38,306.25 441.88,302.5 440,299.38 440.62,295 440,292.5 441.88,287.5 443.75,282.5Z"><title>Ethiopia</title></path>
<path fill="#4eb3d3" d="M459.38,288.12 461.25,287.25 462.25,290 460,291.5 458.75,291Z"><title>Djibouti</title></path>
<path fill="url(#hatch)" stroke="#d4d4d4" stroke-opacity="1" stroke-width="0.6" d="M462.25,290 470,288.75 480,287.5 480.62,290.62 478.75,296.25 475,302.5 468.75,311.25 462.5,318.12 458.75,323.75 458.12,320 458.75,308.75 465,307.5 468.75,303.75 472.5,300 465,296.25 461.88,292.5 460,291.5Z"><title>Somalia</title></path>
<path fill="url(#hatch)" stroke="#d4d4d4" stroke-opacity="1" stroke-width="0.6" d="M418.75,296.25 421.88,293.12 425.62,293.75 429.38,295.62 432.5,293.12 436.25,292.5 438.12,288.75 440,292.5 440.62,295 440,299.38 441.88,302.5 444.38,306.25 441.25,308.75 435,310 433.75,311.25 431.25,310 426.25,306.88 425,305 421.25,300Z"><title>South Sudan</title></path>
<path fill="#a8ddb5" d="M444.38,306.25 448.12,308.75 452.5,310.62 458.75,308.75 458.12,320 458.75,323.75 458.12,325 453.75,331.88 440.62,322.5 441.88,318.75 443.75,313.75 441.88,310 441.25,308.75Z"><title>Kenya</title></path>
<path fill="#7bccc4" d="M433.75,311.25 441.88,310 443.75,313.75 441.88,318.75 440.62,322.5 433.12,323.12 431.88,322.5 433.12,316.25Z"><title>Uganda</title></path>
<path fill="#a8ddb5" d="M430.62,324.38 433.12,323.5 433.75,326.88 431.5,327.75Z"><title>Rwanda</title></path>
<path fill="#f0f9e8" d="M431.25,327.88 433.75,326.88 433.12,331.25 431.25,331.25Z"><title>Burundi</title></path>
<path fill="#2b8cbe" d="M433.12,323.12 440.62,322.5 453.75,331.88 452.5,336.25 454.38,342.5 455,347.5 447.5,350 443.75,349.38 440,345 435,343.12 433.12,341.25 430.62,336.25 431.25,331.25 433.12,331.25 433.75,326.88 433.12,323.5Z"><title>Tanzania</title></path>
<path fill="#a8ddb5" d="M405.62,308.12 410,307.5 417.5,308.12 426.25,306.88 431.25,310 433.75,311.25 433.12,316.25 431.88,322.5 430.62,324.38 431.5,327.75 431.25,331.25 430.62,336.25 433.12,341.25 429.38,342.5 428.12,346.25 428.75,351.25 430.62,353.75 427.5,352.5 425,350 417.5,349.38 414.38,348.12 413.75,342.5 411.88,338.75 407.5,338.75 403.75,340.62 400.62,335.62 391.88,335.62 391.25,333.75 397.5,333.12 398.75,330 401.25,325 403.75,320 405,313.75Z"><title>DR Congo</title></path>
<path fill="#a8ddb5" d="M391.25,333.75 390,331.25 392.5,329.38 396.25,325 395.62,320 396.25,315 398.75,312.5 399.38,313.75 400,310 405.62,308.12 405,313.75 403.75,320 401.25,325 398.75,330 397.5,333.12Z"><title>Congo</title></path>
<path fill="#2b8cbe" d="M385,315.62 388.12,314.38 388.75,311.88 392.5,311.88 392.5,314.38 396.25,315 395.62,320 396.25,325 392.5,329.38 390,331.25 386.25,326.25 383.75,321.88 385,317.5Z"><title>Gabon</title></path>
<path fill="#2b8cbe" d="M385,311.88 388.75,311.88 388.12,314.38 385,315.62Z"><title>Equatorial Guinea</title></path>
<path fill="#a8ddb5" d="M391.88,335.62 400.62,335.62 403.75,340.62 407.5,338.75 411.88,338.75 413.75,342.5 414.38,348.12 417.5,349.38 417.5,353.12 413.12,353.75 413.12,358.75 415,362.5 414.38,365.62 403.75,365 390,364.38 391.25,357.5 393.12,350 393.75,343.75 391.88,338.75ZM390.25,332.75 391.5,332.25 391.88,334 390.62,334.38Z"><title>Angola</title></path>
<path fill="#7bccc4" d="M414.38,348.12 417.5,349.38 425,350 427.5,352.5 430.62,353.75 428.75,351.25 428.12,346.25 429.38,342.5 433.12,341.25 435,343.12 440,345 438.75,350 438.12,356.25 432.5,358.75 431.25,361.25 425,366.25 421.25,365 415,362.5 413.12,358.75 413.12,353.75 417.5,353.12 417.5,349.38Z"><title>Zambia</title></path>
<path fill="#a8ddb5" d="M440,345 441.88,347.5 441.25,352.5 443.75,356.25 444.38,361.25 442.5,363.12 441.25,358.75 439.38,356.25 438.12,356.25 438.75,350Z"><title>Malawi</title></path>
<path fill="#4eb3d3" d="M443.75,349.38 447.5,350 455,347.5 455.62,353.75 455,358.75 450,363.75 445,367.5 441.88,371.25 441.88,373.75 443.12,377.5 442.5,382.5 436.88,386.25 435,386.88 434.38,383.12 433.12,378.12 436.25,373.75 437.5,366.25 438.75,365 432.5,360.62 432.5,358.75 438.12,356.25 439.38,356.25 441.25,358.75 442.5,363.12 444.38,361.25 443.75,356.25 441.25,352.5 441.88,347.5 440,345Z"><title>Mozambique</title></path>
<path fill="#7bccc4" d="M421.25,365 425,366.25 431.25,361.25 432.5,360.62 438.75,365 437.5,366.25 436.25,373.75 433.12,378.12 428.12,377.5 422.5,371.25 420.62,366.88Z"><title>Zimbabwe</title></path>
<path fill="#2b8cbe" d="M390,364.38 403.75,365 414.38,365.25 415,362.5 421.25,365 420.62,366.88 416.25,366.25 410.62,367.5 410,377.5 408.12,378.12 408.12,385 407.5,393.75 404.38,396.25 400,393.75 396.88,385 393.75,375 391.25,368.75Z"><title>Namibia</title></path>
<path fill="#08589e" d="M410.62,367.5 416.25,366.25 420.62,366.88 422.5,371.25 428.12,377.5 425,380.62 421.25,385 416.88,386.25 413.12,386.88 410.62,390 408.12,385 408.12,378.12 410,377.5Z"><title>Botswana</title></path>
<path fill="#2b8cbe" d="M404.38,396.25 407.5,393.75 408.12,385 410.62,390 413.12,386.88 416.88,386.25 421.25,385 425,380.62 428.12,377.5 433.12,378.12 434.38,383.12 435,386.88 436.25,390 434.38,394.38 431.25,398.75 426.88,403.75 421.25,407.5 413.75,408.75 406.25,410.62 403.12,408.75 402.5,403.75 400,396.25 400,393.75Z"><title>South Africa</title></path>
<path fill="#4eb3d3" d="M423.12,396.88 426.25,394.38 428.12,396.25 425,400Z"><title>Lesotho</title></path>
<path fill="#2b8cbe" d="M431.88,388.12 433.75,386.88 434.75,389.38 433.12,391.25Z"><title>Eswatini</title></path>
<path fill="#ccebc5" d="M475,351.88 477.5,353.75 478.12,360 475,367.5 472.5,375 470,382.5 466.25,386.25 462.5,385.62 460.62,380.62 461.88,375 463.75,370 463.12,365 465,362.5 470,358.75 473.12,355Z"><title>Madagascar</title></path>
<path fill="#08589e" d="M305.25,275.25 306.25,275.25 306.25,276.25 305.25,276.25ZM310,276.25 311.25,276.25 311.25,278.12 310.25,278.12ZM307.5,280 309.38,279.75 309.5,280.75 307.75,281Z"><title>Cape Verde</title></path>
<path fill="#2b8cbe" d="M546,196.88 549.75,200.62 556,203.12 562.25,205.62 566,208.12 574.75,209.38 584.75,210.62 592.25,208.12 596,205 594.75,202.5 601,199.38 607.88,198.12 604.75,195.62 597.88,195 598.5,191.88 601,189.38 599.75,183.75 601,181.88 607.25,181.25 613.5,184.38 621,188.75 627.25,192.5 632.25,195.62 636,194.38 637.25,199.38 635.38,203.12 637.25,205 637.88,209 635.38,210 632.25,213.12 628.5,216.25 626,218.12 622.88,220 624.12,217.5 621,213.75 618.5,215.62 615.38,218.75 618.5,221.25 621,223.12 624.75,221.88 627.25,223.12 622.88,226.88 626,231.88 629.75,236.25 632.25,240 633.5,245 632.25,250 631,255 628.75,258.75 625,261.25 620,262.5 619.64,262 616.11,263.41 613.29,263.76 612.58,266.94 611.17,264.11 608.35,263.76 605.88,264.47 604.46,265.53 603.05,262 600.58,259.17 597.05,260.59 593.88,261.29 593.17,262 591.06,264.47 590,263.12 586.25,260 582.5,256.88 584.38,252.5 583.12,249.38 581.25,246.88 579.75,247.5 578.75,246.88 577.5,243.75 573.75,243.12 569.38,245 568.75,248.75 568.12,246.88 561.88,246.25 560,246.88 552.5,245.62 546.25,242.5 541.88,241.25 536.88,237.5 536.25,233.75 532.5,227.5 523.75,221.25 523.12,220 523.12,217.5 525,213.75 528.75,211.88 530,208.75 529.38,204.38 532.5,201.25 533.75,198.75 537.5,196.25 540,192.5 542.5,195ZM609.4,269.05 611.17,268 614.34,268.35 614.7,269.76 612.93,271.88 610.82,272.58 609.4,271.17Z"><title>China</title></path>
<path fill="url(#hatch)" stroke="#d4d4d4" stroke-opacity="1" stroke-width="0.6" d="M633.75,255 635.62,253.75 636.88,256.25 636,261.88 634.38,261.25 633.12,258.12Z"><title>Taiwan</title></path>
<path fill="url(#hatch)" stroke="#d4d4d4" stroke-opacity="1" stroke-width="0.6" d="M637.88,209 639.12,209.38 638.12,212.5 635.62,215.62 635,219.38 631.88,221.25 630,219.38 632.5,216.88 628.5,216.25 632.25,213.12 635.38,210Z"><title>North Korea</title></path>
<path fill="#08589e" d="M634.38,221.25 636.88,219.75 640,220.62 642.5,223.75 643.75,227.5 641.25,229.38 638.75,230 636.88,226.88 635,223.75Z"><title>South Korea</title></path>
<path fill="#08589e" d="M656.25,202.5 659.38,201.88 662.5,205 666.25,205.62 666.88,207.5 663.75,208.75 660.62,210.62 657.5,210.62 656,208.12ZM660,211.88 663.12,213.12 665.62,216.88 666.88,222.5 668.12,226.88 665.62,229.38 661.88,230 659.38,231.88 656.25,230.62 653.75,233.12 651.88,232.5 652.5,237.5 650.62,238.5 648.12,235.62 646.5,233.5 649.38,230 651.88,227.5 655.62,226.88 658.12,225 657.5,223.12 660.62,221.88 661.88,218.12 660.62,215Z"><title>Japan</title></path>
<path fill="#2b8cbe" d="M478.75,203.12 483.12,201.25 487.5,204.38 493.75,206.88 500,206.88 502.5,210.62 506.25,213.12 510,211.25 513.12,212.25 516.88,213.12 516.25,215 510.62,215.62 508.75,217.5 508.12,221.88 505,220.62 501.88,217.5 498.75,214.38 493.75,211.25 489.38,210 486.88,209.38 483.75,211.25 480.62,210Z"><title>Uzbekistan</title></path>
<path fill="url(#hatch)" stroke="#d4d4d4" stroke-opacity="1" stroke-width="0.6" d="M475,211.25 480.62,210 483.75,211.25 486.88,209.38 489.38,210 493.75,211.25 498.75,214.38 501.88,217.5 505,220.62 502.5,223.12 500,226.25 496.25,226.88 495,223.75 490,221.88 485,220.62 480,221.25 478.75,221.25 477.5,217.5Z"><title>Turkmenistan</title></path>
<path fill="#4eb3d3" d="M508.75,217.5 510.62,215.62 516.25,215 520,215.62 525,213.75 523.12,217.5 523.12,220 522.5,222.5 517.5,221.88 515,220 511.88,221.88 508.5,221.88 508.12,221.88Z"><title>Tajikistan</title></path>
<path fill="#ccebc5" d="M496.25,226.88 500,226.25 502.5,223.12 505,220.62 508.5,221.88 511.88,221.88 515,220 517.5,221.88 522.5,222.5 518.12,226.25 516.25,230 515,233.75 513.12,237.5 510,238.75 508.75,241.88 503.75,243.12 498.75,242.5 497.5,238.75 496.25,232.5Z"><title>Afghanistan</title></path>
<path fill="#4eb3d3" d="M458.12,216.88 462.5,218.75 468.12,218.75 470,221.88 475,223.12 478.75,221.25 480,221.25 485,220.62 490,221.88 495,223.75 496.25,226.88 496.25,232.5 497.5,238.75 498.75,242.5 502.5,248.12 500,252.5 495,252.75 490,250 487.5,250.62 482.5,248.75 477.5,245.62 473.75,241.88 470.62,241.5 470,242.5 469.38,240.62 466.25,235 463.12,230 461.25,225.62 458.12,223.75Z"><title>Iran</title></path>
<path fill="#4eb3d3" d="M455.62,212.75 460.62,214.38 461.88,217.5 458.75,216.25Z"><title>Armenia</title></path>
<path fill="#2b8cbe" d="M460.62,212.5 466.88,211.5 469.38,216.25 468.12,218.75 462.5,218.75 461.88,217.5 460.62,214.38Z"><title>Azerbaijan</title></path>
<path fill="#4eb3d3" d="M449.38,232.5 450,229.38 453.75,225 458.12,223.75 461.25,225.62 463.12,230 466.25,235 469.38,240.62 470,242.5 466.88,244.38 461.25,242.5 453.75,238.12 448.12,236.88Z"><title>Iraq</title></path>
<path fill="url(#hatch)" stroke="#d4d4d4" stroke-opacity="1" stroke-width="0.6" d="M443.12,226.25 452.5,223.12 453.75,225 450,229.38 449.38,232.5 446.88,232.5 443.12,234.38 442.5,230.62 443.75,229.38Z"><title>Syria</title></path>
<path fill="#2b8cbe" d="M441.88,230.62 442.75,230.62 443.12,233.12 441.88,233.12Z"><title>Lebanon</title></path>
<path fill="#08589e" d="M440,233.75 441.88,233.12 443.12,234.38 442.25,236.25 440.62,240 441.25,243.75 440,243.12 439.38,238.75Z"><title>Israel</title></path>
<path fill="#2b8cbe" d="M441.25,243.75 440.62,240 442.25,236.25 443.12,234.38 446.88,232.5 449.38,232.5 448.12,236.88 444.38,238.75 445.62,240.62Z"><title>Jordan</title></path>
<path fill="#08589e" d="M441.25,243.75 445.62,240.62 444.38,238.75 448.12,236.88 453.75,238.12 461.25,242.5 466.88,244.38 470,242.5 471.25,245 473.75,248.75 475.62,251.88 477.25,251.88 478.5,252.5 478.12,255.62 478.75,256.25 482.5,257.5 486.25,256.25 488.12,251.88 489.38,255 491.88,258.12 496.25,260 498.12,261.88 495.62,266.25 493.12,270 490,272.5 486.25,275.62 484.38,276.25 481.88,270 476.88,271.25 472.5,273.12 470,275 463.75,273.75 460.62,276.25 457.5,271.25 453.75,266.25 450,260 446.88,255 443.75,250Z"><title>Saudi Arabia, UAE, Oman, Qatar, Kuwait</title></path>
<path fill="url(#hatch)" stroke="#d4d4d4" stroke-opacity="1" stroke-width="0.6" d="M460.62,276.25 463.75,273.75 470,275 472.5,273.12 476.88,271.25 481.88,270 484.38,276.25 480,279.38 473.75,281.88 467.5,284.38 463.12,285.62 461.88,282.5Z"><title>Yemen</title></path>
<path fill="#7bccc4" d="M498.75,242.5 503.75,243.12 508.75,241.88 510,238.75 513.12,237.5 515,233.75 516.25,230 518.12,226.25 522.5,222.5 523.12,220 523.75,221.25 532.5,227.5 536.25,233.75 536.88,237.5 541.88,241.25 541.25,243.75 545,245.62 551.25,248.12 557.5,250 560.62,250.62 560,246.88 561.5,246.5 561.88,249.75 566.25,250 568.75,249 569.38,245 573.75,243.12 577.5,243.75 578.75,246.88 579.75,247.5 576.88,250 575,253.12 575,256.25 572.5,257.5 571.5,264.38 570.62,261.88 568.12,261.25 565,262.5 561.25,266.25 556.25,270 551.25,276.25 546.88,282.5 546.25,290 546.88,295 544.38,300 541.88,300.62 537.5,295 534.38,286.25 531.25,277.5 528.75,270 527.5,264.38 523.75,263.75 520,261.25 516.25,257.5 512.5,255.62 507.5,254.38 501.88,254 500,252.5 502.5,248.12Z"><title>India, Pakistan, Bangladesh</title></path>
<path fill="#4eb3d3" d="M541.88,241.25 546.25,242.5 552.5,245.62 560,246.88 560.62,250.62 557.5,250 551.25,248.12 545,245.62 541.25,243.75Z"><title>Nepal</title></path>
<path fill="#2b8cbe" d="M561.5,246.5 568.12,246.88 568.75,249 566.25,250 561.88,249.75Z"><title>Bhutan</title></path>
<path fill="#7bccc4" d="M546.25,295 548.75,293.75 551.25,298.75 550.5,303 548,304.25 546.25,300Z"><title>Sri Lanka</title></path>
<path fill="#4eb3d3" d="M571.5,264.38 572.5,257.5 575,256.25 575,253.12 576.88,250 579.75,247.5 581.25,246.88 583.12,249.38 584.38,252.5 582.5,256.88 586.25,260 590,263.12 591.88,264.38 592.5,266.88 589.38,268.12 586.25,269.38 584.38,272.5 586.25,276.25 588.12,280 590,285 591.25,290 590,293.75 588.75,290 588.12,285 585,277.5 581.88,278.75 579.38,277.5 576.88,272.5 573.75,268.12Z"><title>Myanmar</title></path>
<path fill="#2b8cbe" d="M590,266.94 591.76,269.05 592.47,271.17 592.82,274.35 595.64,273.64 598.82,272.58 600.58,273.99 602.35,277.17 603.41,280.35 603.76,282.11 600.58,282.46 598.11,283.87 598.47,286.7 597.05,285.29 594.94,286.7 593.17,284.93 592.11,286.7 591.76,289.52 592.11,291.99 592.5,292.5 591.25,295 593.12,298.12 596.88,301.88 593.75,304.38 590.62,299.38 589,295.25 590.75,293.25 591.41,290.23 590.35,285.99 588.94,281.76 587.17,279.29 585.06,276.82 585.76,274.7 584.35,271.88 586.47,268.7Z"><title>Thailand</title></path>
<path fill="#2b8cbe" d="M593.17,262 594.94,264.11 598.47,265.88 600.58,267.64 598.82,269.41 601.29,271.17 604.11,273.99 606.23,276.82 607.99,279.64 608.7,282.46 606.23,282.82 603.76,282.11 603.41,280.35 602.35,277.17 600.58,273.99 598.82,272.58 595.64,273.64 592.82,274.35 592.47,271.17 591.76,269.05 590,266.94 591.06,264.47Z"><title>Laos</title></path>
<path fill="#2b8cbe" d="M604.46,265.53 603.05,268 603.76,271.17 606.23,274.35 609.05,277.17 611.17,279.64 612.58,283.17 613.29,287.4 611.87,290.93 609.76,293.75 606.23,296.22 604.39,296.86 603.97,294.46 604.82,291.78 606.93,290.58 609.05,288.11 609.4,285.29 608.7,282.46 607.99,279.64 606.23,276.82 604.11,273.99 601.29,271.17 598.82,269.41 600.58,267.64 598.47,265.88 594.94,264.11 593.17,262 593.88,261.29 597.05,260.59 600.58,259.17 603.05,262Z"><title>Vietnam</title></path>
<path fill="#4eb3d3" d="M598.11,283.87 600.58,282.46 603.76,282.11 606.23,282.82 608.7,282.46 609.4,285.29 609.05,288.11 606.93,290.58 604.82,291.64 601.99,290.93 599.88,289.17 598.47,286.7Z"><title>Cambodia</title></path>
<path fill="#08589e" d="M593.75,304.38 596.88,301.88 599.38,303.12 601.25,307.5 603.12,312.5 603.75,316.25 601.88,316.88 599.38,313.75 596.25,310.62 594.38,307.5Z"><title>Malaysia</title></path>
<path fill="#7bccc4" d="M582.5,306.5 587.5,305.5 592,308.75 597,313.75 601.25,318.75 603.75,320 603.25,322.5 606.25,326.25 608,331.25 607.5,335.5 603.75,334.5 600,330 597,325.75 592.5,319.5 587.5,312.5 584.5,308.75ZM606.25,336.25 613.75,335.5 621.25,337.5 628.75,340.5 628,342.5 620,341.25 611.25,339.5 607,338.75ZM631.25,342 636.25,341.25 637,343.25 632,343.75ZM638,342.5 645,341.25 645.5,343.25 638.75,344.5ZM631.88,301.88 635,304.38 637.5,306.25 635,308.75 635.62,312.5 636.25,316.25 634.38,320 632.5,325 631.25,330 620,330 617.5,326.88 615,322.5 614.38,317.5 616.25,315 620,313.12 623.75,311.25 627.5,307.5 630,304.38Z"><title>Indonesia</title></path>
<path fill="#ccebc5" d="M718.75,333.75 721.25,334.5 723.75,337.5 722,338ZM726.25,338.75 730,341.25 729,342.5 726.25,340.5ZM732.5,342.5 735,345.5 733.75,347 732,344.5Z"><title>Solomon Islands</title></path>
<path fill="#2b8cbe" d="M637.5,271.88 641.25,271.25 642.25,275 640,278.75 641.88,282.5 646.25,284.38 649.38,287.5 651.25,291.25 648.75,292.5 645,290 641.25,286.25 638.12,284.38 636.88,278.75 636.25,275ZM642.5,290.62 645,290 647.5,292.5 650,293.75 651.25,296.25 648.12,297.5 645.62,296.25 643.75,293.75ZM643.75,299.38 646.88,298.12 650,295.62 653.12,296.25 654,300 653.12,304.38 651.25,305 650,301.88 647.5,301.25 645,301.88ZM632.5,297.5 636.88,291.25 637.75,291.88 633.75,298.12Z"><title>Philippines</title></path>
<path fill="#08589e" d="M639.38,179 641.88,180.62 646.88,185.62 652.5,190.62 654.38,192.5 651.88,193.12 654.38,196.88 657.5,199.38 655.62,200 652.5,196.88 650,193.12 646.88,188.75 643.12,184.38 640,180.62Z"><title>Russia</title></path>
<path fill="#08589e" d="M631.88,301.88 635,304.38 637.5,306.25 635,308.75 632.5,308.12 630,310 627.5,313.12 623.75,315 620.62,316.88 618.12,317.5 616.25,315.62 620,313.12 623.75,311.25 627.5,307.5 630,304.38Z"><title>Malaysia</title></path>
<path fill="#7bccc4" d="M664.38,322.5 668.75,321 671.88,322.5 673.12,325.62 676.88,326.88 680,324.38 683.75,324.38 687.75,326.88 687.75,343.12 685,341.88 681.88,341.25 680,341.25 681.25,338.75 683.75,337.5 682.5,333.75 679.38,331.88 676.25,330 672.5,329.38 669.38,328.12 667.5,325.62ZM638.12,320 641.25,317.5 647.5,316.88 651.88,316 651.25,318.12 646.25,319.38 642.5,321.25 645,325 646.25,330 646.88,333.75 644.38,333.12 643.12,328.75 641.25,326.88 641.25,331.88 640,334.38 638.12,333.12 637.5,327.5ZM656.88,315.62 659,315 660,318.75 658.5,321.88 657.25,320ZM653.12,328.5 656.25,328.12 656.5,329.75 653.75,330ZM658.12,327.75 662.5,327.25 664.75,329 663.12,330 659.38,329.38ZM646.25,345.62 650,343.12 655.62,341.5 655.62,342.75 651.25,344.75 647.5,346.88ZM636.25,344.75 640,345.25 639.38,346.5 636.88,346ZM671.25,334.75 672.88,334.38 673.12,337.25 671.62,337.5Z"><title>Indonesia</title></path>
<path fill="#ccebc5" d="M687.75,326.88 692.5,328.75 697.5,331.25 701.25,334.38 703.12,336.88 700.62,338.75 703.12,341.88 706.25,345 709,347.25 705,347.25 701.88,345 698.75,343.12 695,342.5 691.25,343.75 687.75,343.5ZM704.38,334.75 708.12,333.75 711.88,331.25 713.75,328.12 715,330 713.75,333.12 710,335.62 706.25,336.5Z"><title>Papua New Guinea</title></path>
<path fill="#08589e" d="M614.5,408.97 616.75,402.97 618.25,396.97 617.2,389.48 619,383.48 620.49,377.48 626.49,373.73 633.99,371.48 639.99,368.49 642.23,363.99 647.48,359.49 653.48,356.49 657.98,357.24 660.97,353.49 665.47,349.75 669.97,351.24 675.97,351.69 673.72,355.74 672.22,358.74 676.72,362.49 681.96,366.24 684.96,360.99 687.21,353.49 689.46,348.25 691.71,353.49 694.71,359.49 696.21,365.49 699.21,372.23 701.45,378.23 705.2,384.98 704.45,392.47 701.45,399.97 696.21,407.47 690.96,413.46 684.96,417.96 677.47,420.21 674.47,420.96 669.22,419.46 665.47,415.71 663.97,410.46 661.72,411.96 662.47,407.47 658.73,408.97 657.23,405.22 653.48,402.97 647.48,402.97 639.99,405.22 632.49,408.22 624.99,409.72 619,410.46 616,410.76ZM668,427.5 673.75,426.25 676.25,428 672.5,432.5 668.75,433.75Z"><title>Australia</title></path>
<path fill="#08589e" d="M738.75,410 740.5,410.5 741.25,415 746.25,417.5 745,421.25 740,423 736.25,427.5 732.5,428 734.5,423.75 737.5,420 738.75,415ZM706.25,438 712.5,434.5 720,431.25 726.25,427 730,426.25 730.5,428.75 725,432.5 717.5,437 711.25,441.25 707,441.25Z"><title>New Zealand</title></path>
<path fill="url(#hatch)" stroke="#d4d4d4" stroke-opacity="1" stroke-width="0.6" d="M734.5,372.5 736.25,372 740,377.5 738,378.75Z"><title>New Caledonia</title></path>
<path fill="#a8ddb5" d="M743.75,358.75 745,358.75 745.5,363 744.25,363Z"><title>Vanuatu</title></path>
<path fill="#2b8cbe" d="M766.25,366.25 770,363.75 773.75,362 773.75,363.75 770,366.25 767,368Z"><title>Fiji</title></path>
</g>
<g fill="none" stroke="#747b84" stroke-opacity="0.9" stroke-width="0.45" stroke-linejoin="round">
<path d="M384.38,164.75 385.25,162.5 384.38,157.5 387.5,152.5 391.25,148.12 396.25,145 400,143.75 403.75,142.5"/>
<path d="M403.75,142.5 403.12,145.62 405,148.75 406.25,151.88"/>
<path d="M403.75,142.5 407.5,143.75 411.25,142.5 413.12,141"/>
<path d="M413.12,141.88 414.38,147.5 416.88,153.75 420,158.75 416.25,164.75"/>
<path d="M416.25,166.25 415.62,169.38 416.25,170.62"/>
<path d="M407.5,170.62 412.5,170 416.25,170.62"/>
<path d="M416.25,170.62 418.12,173.75 415,175"/>
<path d="M403.12,175 410,174.38 415,175"/>
<path d="M415,175 413.12,178.12 409.38,178.75"/>
<path d="M402.5,177.5 406.25,178.12 409.38,178.75"/>
<path d="M409.38,178.75 410,183.75 409.38,187.5 410.62,190"/>
<path d="M392.5,186.25 397.5,188.75 402.5,190 410.62,190"/>
<path d="M418.12,173.75 422.5,176.25 426.25,181.25 425,183.75"/>
<path d="M410,183.75 420,185 425,183.75"/>
<path d="M425,183.75 432.5,185 440,187.5 443.75,190.62 442.5,195 437.5,196.25"/>
<path d="M388.12,190 391.25,193.12 397.5,192.5 402.5,190"/>
<path d="M389.38,195.62 395,195 400,193.75 402.5,190"/>
<path d="M375,188.75 376.88,192.5"/>
<path d="M378.75,195.62 382.5,196.25 382.5,198.12 378.75,198.75 376.88,196.88"/>
<path d="M410.62,190 415,193.12 420,192.5 425,195 427.5,198.75"/>
<path d="M402.5,190 405,193.75 410.62,195 415,193.12"/>
<path d="M360.62,206 368.75,208.75"/>
<path d="M378.12,207.5 376.25,203.75 377.5,200.62"/>
<path d="M377.5,200.62 382.5,199.38 388.75,198.75 391.88,201.25"/>
<path d="M388.75,198.75 395,197.5 400,195"/>
<path d="M391.88,201.25 396.25,202.5"/>
<path d="M400,201.88 403.75,203.75 407.5,202.5 410,200 407.5,196.25 400,195"/>
<path d="M410,206.25 416.25,205.62 422.5,206.25"/>
<path d="M411.25,214.38 414.38,211.25 420,210.62 423.12,212.75"/>
<path d="M403.75,203.75 406.25,208.75 405,211.25"/>
<path d="M406.25,208.75 410,210 411.25,214.38"/>
<path d="M410,200 410,206.25 406.25,208.75"/>
<path d="M410,200 416.25,197.5 421.25,198.75 423.75,202.5"/>
<path d="M380,223.5 379.75,226.25 380.62,230 383.12,233.75 385,236.88"/>
<path d="M344.38,210.62 348.75,210.62 348.12,215 347.5,219.38 346.88,223.12"/>
<path d="M359.38,227.5 358.75,230.62 360,235 355,238.75 350,240.62 343.75,243.75 343.12,247.5"/>
<path d="M465.62,198.75 462.5,196.25 457.5,193.12 456.88,189.38 461.25,185.62 466.25,185 473.12,188.75 483.12,187.5 482.5,182.5 483.12,179.38 490,177.5 497.5,176.25 501.25,179.38 507.5,181.25 511.25,179.38 517.5,183.12 522.5,186.88 527.5,187.5 527.5,186.88 538.75,191.88 540,192.5"/>
<path d="M540,192.5 546,188.75 546,188.12 552.25,188.75 557.88,190 558.5,185.62 563.5,186.25 571,188.75 578.5,190 583.5,191.88 588.5,190.62 596,190 601,189.38"/>
<path d="M510.62,211.25 515,209.38 521.25,208.12 530,208.75"/>
<path d="M452.5,209.38 457.5,210.62 462.5,211.25 466.88,211.5"/>
<path d="M451.25,212.75 455.62,212.75"/>
<path d="M531.25,227.5 526.25,230 525,232.5 527.5,236.25 523.75,241.25 520.62,245 519.38,250 521.25,255 521.88,255.62 520,261.25"/>
<path d="M561.25,251.25 563.12,250.62 568.75,252.5 571.25,251.25 572.5,257.5"/>
<path d="M561.25,251.25 561.88,257.5 563.75,262.5"/>
<path d="M482.5,257.5 485,261.25 488.12,262.5 488.75,267.5 481.88,270"/>
<path d="M486.25,256.25 488.12,257.5 488.12,262.5"/>
</g>
</g>
<g id="legend">
<rect x="186.5" y="537.5" width="47" height="11" fill="url(#hatch)" stroke="#c4c4c4" stroke-width="1"/>
<line x1="210" y1="534" x2="210" y2="538" stroke="#c4c4c4" stroke-width="1"/>
<text x="210" y="530" text-anchor="middle">No data</text>
<path d="M253.5 543 L258.5 537.5 H312 V548.5 H258.5 Z" fill="#f0f9e8" stroke="#c4c4c4" stroke-width="0.8"/>
<rect x="312" y="537.5" width="58.5" height="11" fill="#ccebc5"/>
<rect x="370.5" y="537.5" width="58.5" height="11" fill="#a8ddb5"/>
<rect x="429" y="537.5" width="58.5" height="11" fill="#7bccc4"/>
<rect x="487.5" y="537.5" width="58.5" height="11" fill="#4eb3d3"/>
<rect x="546" y="537.5" width="58.5" height="11" fill="#2b8cbe"/>
<rect x="604.5" y="537.5" width="59" height="11" fill="#08589e"/>
<g stroke="#8f8f8f" stroke-width="0.7">
<line x1="312" y1="535" x2="312" y2="548.5"/><line x1="370.5" y1="535" x2="370.5" y2="548.5"/><line x1="429" y1="535" x2="429" y2="548.5"/><line x1="487.5" y1="535" x2="487.5" y2="548.5"/><line x1="546" y1="535" x2="546" y2="548.5"/><line x1="604.5" y1="535" x2="604.5" y2="548.5"/>
</g>
<text x="312" y="530" text-anchor="middle">40%</text>
<text x="370.5" y="530" text-anchor="middle">50%</text>
<text x="429" y="530" text-anchor="middle">60%</text>
<text x="487.5" y="530" text-anchor="middle">70%</text>
<text x="546" y="530" text-anchor="middle">80%</text>
<text x="604.5" y="530" text-anchor="middle">90%</text>
<text x="663" y="530" text-anchor="middle">100%</text>
</g>
</svg>
<div id="src"><b>Data source:</b><span> International Telecommunication Union</span></div>
<div id="url">OurWorldinData.org/technological-change | CC BY</div>
</body>
</html>
